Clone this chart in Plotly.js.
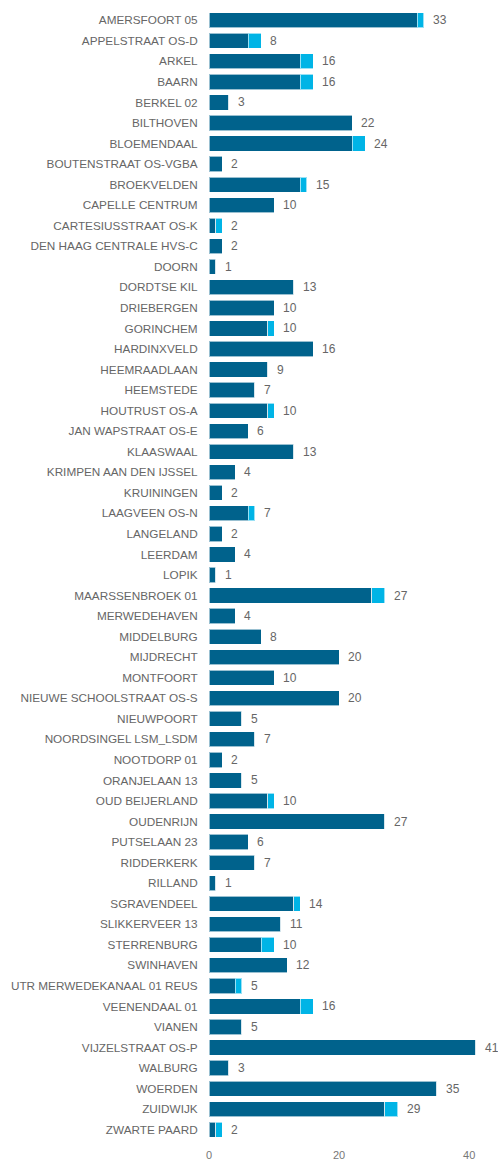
<!DOCTYPE html>
<html>
<head>
<meta charset="utf-8">
<script src="https://cdn.plot.ly/plotly-3.0.1.min.js"></script>
<style>html,body{margin:0;padding:0;background:#fff;}#chart{width:498px;height:1161px;}</style>
</head>
<body>
<div id="chart"></div>
<script>
const categories = ["AMERSFOORT 05","APPELSTRAAT OS-D","ARKEL","BAARN","BERKEL 02","BILTHOVEN","BLOEMENDAAL","BOUTENSTRAAT OS-VGBA","BROEKVELDEN","CAPELLE CENTRUM","CARTESIUSSTRAAT OS-K","DEN HAAG CENTRALE HVS-C","DOORN","DORDTSE KIL","DRIEBERGEN","GORINCHEM","HARDINXVELD","HEEMRAADLAAN","HEEMSTEDE","HOUTRUST OS-A","JAN WAPSTRAAT OS-E","KLAASWAAL","KRIMPEN AAN DEN IJSSEL","KRUININGEN","LAAGVEEN OS-N","LANGELAND","LEERDAM","LOPIK","MAARSSENBROEK 01","MERWEDEHAVEN","MIDDELBURG","MIJDRECHT","MONTFOORT","NIEUWE SCHOOLSTRAAT OS-S","NIEUWPOORT","NOORDSINGEL LSM_LSDM","NOOTDORP 01","ORANJELAAN 13","OUD BEIJERLAND","OUDENRIJN","PUTSELAAN 23","RIDDERKERK","RILLAND","SGRAVENDEEL","SLIKKERVEER 13","STERRENBURG","SWINHAVEN","UTR MERWEDEKANAAL 01 REUS","VEENENDAAL 01","VIANEN","VIJZELSTRAAT OS-P","WALBURG","WOERDEN","ZUIDWIJK","ZWARTE PAARD"];
const darkValues = [32,6,14,14,3,22,22,2,14,10,1,2,1,13,10,9,16,9,7,9,6,13,4,2,6,2,4,1,25,4,8,20,10,20,5,7,2,5,9,27,6,7,1,13,11,8,12,4,14,5,41,3,35,27,1];
const lightValues = [1,2,2,2,0,0,2,0,1,0,1,0,0,0,0,1,0,0,0,1,0,0,0,0,1,0,0,0,2,0,0,0,0,0,0,0,0,0,1,0,0,0,0,1,0,2,0,1,2,0,0,0,0,2,1];
const tickValues = [0,20,40];

const totals = darkValues.map((v,i)=>v+lightValues[i]);
const DARK = '#00628c', LIGHT = '#00b4e6';
const FONT = '"Liberation Sans", Arial, sans-serif';

const traces = [
  {type:'bar', orientation:'h', y:categories, x:darkValues, name:'A',
   marker:{color:DARK, line:{color:'rgba(255,255,255,0.6)', width:1}}, hoverinfo:'x+y'},
  {type:'bar', orientation:'h', y:categories, x:lightValues, name:'B',
   marker:{color:LIGHT, line:{color:'rgba(255,255,255,0.6)', width:1}}, hoverinfo:'x+y'}
];

const annotations = categories.map((c,i)=>({
  x: totals[i], y: c, xref:'x', yref:'y', text: String(totals[i]),
  showarrow:false, xanchor:'left', yanchor:'middle', xshift:7,
  font:{family:FONT, size:12, color:'#666666'}
}));

const layout = {
  width:498, height:1161,
  margin:{l:209, r:19, t:10, b:21},
  barmode:'stack', bargap:0.26,
  showlegend:false,
  paper_bgcolor:'#ffffff', plot_bgcolor:'#ffffff',
  font:{family:FONT, size:12, color:'#666666'},
  xaxis:{range:[0,41.5], tickvals:tickValues, ticktext:tickValues.map(String),
    showgrid:false, zeroline:false, showline:false,
    ticks:'outside', ticklen:5, tickcolor:'rgba(0,0,0,0)', automargin:false,
    tickfont:{size:11, color:'#777777'}, fixedrange:true},
  yaxis:{autorange:'reversed', type:'category', showgrid:false, zeroline:false, showline:false,
    ticks:'outside', ticklen:8, tickcolor:'rgba(0,0,0,0)', automargin:false,
    tickfont:{size:11.75, color:'#666666'}, fixedrange:true},
  annotations: annotations
};

Plotly.newPlot('chart', traces, layout, {displayModeBar:false, staticPlot:true});
</script>
</body>
</html>
